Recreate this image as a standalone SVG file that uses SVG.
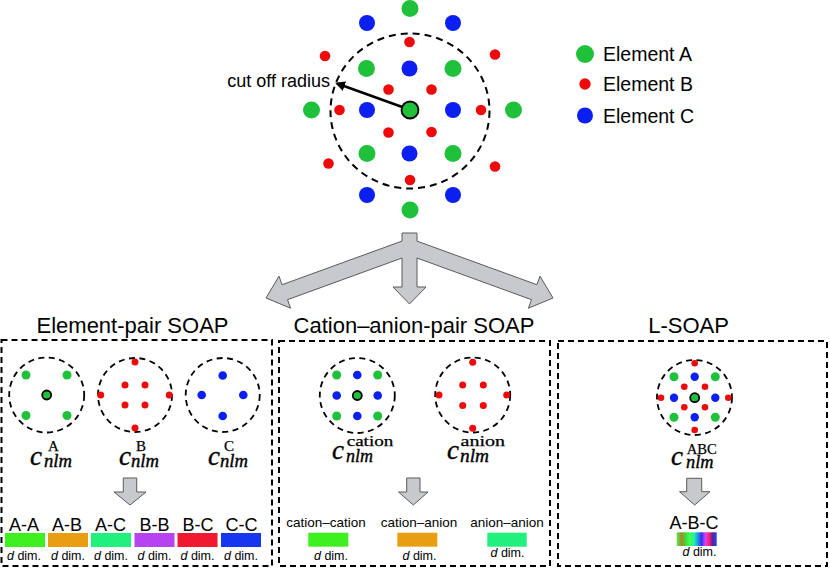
<svg xmlns="http://www.w3.org/2000/svg" width="830" height="568" viewBox="0 0 830 568">
<style>
.bg{fill:#fff}
.ga{fill:#1fc13b}
.rb{fill:#ee0a0a}
.bc{fill:#0a1ff0}
.ctr{fill:#1fc13b;stroke:#000;stroke-width:1.8}
.cut{fill:none;stroke:#000;stroke-width:2;stroke-dasharray:7 5}
.cut2{fill:none;stroke:#000;stroke-width:1.8;stroke-dasharray:6 4.5}
.box{fill:none;stroke:#000;stroke-width:2;stroke-dasharray:6 4}
.blk{fill:#c8c9cc;stroke:#5a5a5a;stroke-width:1}
.sans{font-family:"Liberation Sans",Arial,sans-serif;fill:#000}
.ttl{font-size:22px;text-anchor:middle}
.leg{font-size:19.5px}
.lbl{font-size:18px;text-anchor:middle}
.lbl2{font-size:13.5px;text-anchor:middle}
.dd{font-size:12.5px;text-anchor:middle}
.mi{font-family:"Liberation Serif","DejaVu Serif",serif;font-style:italic;font-size:27px;stroke:#000;stroke-width:0.35}
.sub{font-family:"Liberation Serif","DejaVu Serif",serif;font-style:italic;font-size:18px;stroke:#000;stroke-width:0.35}
.sup{font-family:"Liberation Serif","DejaVu Serif",serif;font-size:15px;stroke:#000;stroke-width:0.25}
</style>
<defs>
<marker id="ah" viewBox="0 0 10 10" refX="8" refY="5" markerWidth="4" markerHeight="4" orient="auto" markerUnits="strokeWidth">
<path d="M0,0 L10,5 L0,10 Z" fill="#000"/>
</marker>
<linearGradient id="rainbow" x1="0" y1="0" x2="1" y2="0">
<stop offset="0" stop-color="#4cf04c"/>
<stop offset="0.12" stop-color="#a8862a"/>
<stop offset="0.22" stop-color="#3cd83c"/>
<stop offset="0.32" stop-color="#44ff44"/>
<stop offset="0.44" stop-color="#22eeaa"/>
<stop offset="0.54" stop-color="#2288ee"/>
<stop offset="0.62" stop-color="#3333ee"/>
<stop offset="0.72" stop-color="#e040f0"/>
<stop offset="0.82" stop-color="#f02070"/>
<stop offset="0.9" stop-color="#5522a0"/>
<stop offset="1" stop-color="#2244f0"/>
</linearGradient>
</defs>
<rect class="bg" x="0" y="0" width="830" height="568"/>

<g id="lattice">
<ellipse class="cut" cx="410" cy="111" rx="79.5" ry="77.5"/>
<circle class="ga" cx="410" cy="8.5" r="8.5"/>
<circle class="bc" cx="367" cy="23" r="8"/>
<circle class="bc" cx="453" cy="23" r="8"/>
<circle class="rb" cx="409.5" cy="42" r="5.3"/>
<circle class="rb" cx="325" cy="56" r="5.3"/>
<circle class="rb" cx="495" cy="54.5" r="5.3"/>
<circle class="ga" cx="366.5" cy="68.5" r="8.5"/>
<circle class="bc" cx="409.5" cy="68.5" r="8"/>
<circle class="ga" cx="453" cy="68.5" r="8.5"/>
<circle class="rb" cx="388.5" cy="89.5" r="5.3"/>
<circle class="rb" cx="431.5" cy="89.5" r="5.3"/>
<circle class="ga" cx="311.5" cy="110" r="8.5"/>
<circle class="rb" cx="339.5" cy="110" r="5.3"/>
<circle class="bc" cx="367" cy="110" r="8"/>
<circle class="bc" cx="453" cy="110" r="8"/>
<circle class="rb" cx="481" cy="110" r="5.3"/>
<circle class="ga" cx="513.5" cy="110" r="8.5"/>
<circle class="rb" cx="388.5" cy="132.5" r="5.3"/>
<circle class="rb" cx="431.5" cy="132" r="5.3"/>
<circle class="ga" cx="367" cy="153.5" r="8.5"/>
<circle class="bc" cx="409.5" cy="153.5" r="8"/>
<circle class="ga" cx="453" cy="153.5" r="8.5"/>
<circle class="rb" cx="328.5" cy="163.5" r="5.3"/>
<circle class="rb" cx="495" cy="166.5" r="5.3"/>
<circle class="rb" cx="410" cy="180" r="5.3"/>
<circle class="bc" cx="367" cy="195" r="8"/>
<circle class="bc" cx="453" cy="195" r="8"/>
<circle class="ga" cx="410" cy="210" r="8.5"/>
<line x1="405" y1="108" x2="337" y2="83.5" stroke="#000" stroke-width="2.5" marker-end="url(#ah)"/>
<circle class="ctr" cx="410" cy="110" r="8.5"/>
<text class="sans" x="330" y="87" font-size="18" text-anchor="end">cut off radius</text>
</g>

<g id="legend">
<circle class="ga" cx="585" cy="54" r="9"/>
<text class="sans leg" x="603" y="60.5">Element A</text>
<circle class="rb" cx="585" cy="84" r="5.7"/>
<text class="sans leg" x="603" y="91">Element B</text>
<circle class="bc" cx="585" cy="115.5" r="8"/>
<text class="sans leg" x="603" y="122.5">Element C</text>
</g>

<g id="connectors">
<path class="blk" d="M402,233 L417,233 L417,241.1 L536.9,284.7 L540,276.2 L553,298 L528.4,308.2 L531.5,299.7 L417,258 L417,287 L426,287 L409.5,304 L393,287 L402,287 L402,258 L287.5,299.7 L290.6,308.2 L266,298 L279,276.2 L282.1,284.7 L402,241.1 Z"/>
</g>

<g id="panel-element-pair">
<text class="sans ttl" x="132.5" y="333">Element-pair SOAP</text>
<rect class="box" x="1.5" y="340" width="270.5" height="226"/>
<circle class="cut2" cx="46.7" cy="395" r="37.5"/>
<circle class="ga" cx="26" cy="375" r="4.5"/>
<circle class="ga" cx="67" cy="375" r="4.5"/>
<circle class="ga" cx="26" cy="415.5" r="4.5"/>
<circle class="ga" cx="67" cy="415.5" r="4.5"/>
<circle class="ctr" cx="46.7" cy="395" r="4.5" stroke-width="1.3"/>
<circle class="cut2" cx="135" cy="395" r="37"/>
<circle class="rb" cx="135" cy="362" r="3.5"/>
<circle class="rb" cx="125" cy="385" r="3.5"/>
<circle class="rb" cx="145" cy="385" r="3.5"/>
<circle class="rb" cx="125" cy="405" r="3.5"/>
<circle class="rb" cx="145" cy="405" r="3.5"/>
<circle class="rb" cx="135" cy="428" r="3.5"/>
<circle class="rb" cx="100.7" cy="395" r="3.5"/>
<circle class="rb" cx="169.3" cy="395" r="3.5"/>
<circle class="cut2" cx="222.7" cy="395" r="37"/>
<circle class="bc" cx="222.7" cy="375.5" r="4.3"/>
<circle class="bc" cx="201.7" cy="395" r="4.3"/>
<circle class="bc" cx="243.3" cy="395" r="4.3"/>
<circle class="bc" cx="222.7" cy="416" r="4.3"/>
<text class="mi" x="30" y="465">c</text>
<text class="sup" x="48" y="451">A</text>
<text class="sub" x="44" y="467" textLength="28" lengthAdjust="spacingAndGlyphs">nlm</text>
<text class="mi" x="119" y="465">c</text>
<text class="sup" x="136" y="451">B</text>
<text class="sub" x="131" y="467" textLength="28" lengthAdjust="spacingAndGlyphs">nlm</text>
<text class="mi" x="208" y="465">c</text>
<text class="sup" x="224" y="451">C</text>
<text class="sub" x="220" y="467" textLength="28" lengthAdjust="spacingAndGlyphs">nlm</text>
<path class="blk" d="M123.3,478 L136.7,478 L136.7,492 L146,492 L130,505 L114,492 L123.3,492 Z"/>
<text class="sans lbl" x="24" y="531">A-A</text>
<text class="sans lbl" x="67" y="531">A-B</text>
<text class="sans lbl" x="110.5" y="531">A-C</text>
<text class="sans lbl" x="154.5" y="531">B-B</text>
<text class="sans lbl" x="198" y="531">B-C</text>
<text class="sans lbl" x="241.5" y="531">C-C</text>
<rect x="5" y="533" width="40" height="14" fill="#3ff020"/>
<rect x="48" y="533" width="40" height="14" fill="#e89e10"/>
<rect x="91" y="533" width="40" height="14" fill="#22f07c"/>
<rect x="134.5" y="533" width="40" height="14" fill="#b742f0"/>
<rect x="177.5" y="533" width="40" height="14" fill="#ef1a30"/>
<rect x="221" y="533" width="40" height="14" fill="#1636f0"/>
<text class="sans dd" x="24" y="560"><tspan font-style="italic">d</tspan> dim.</text>
<text class="sans dd" x="68" y="560"><tspan font-style="italic">d</tspan> dim.</text>
<text class="sans dd" x="111" y="560"><tspan font-style="italic">d</tspan> dim.</text>
<text class="sans dd" x="154.5" y="560"><tspan font-style="italic">d</tspan> dim.</text>
<text class="sans dd" x="197.5" y="560"><tspan font-style="italic">d</tspan> dim.</text>
<text class="sans dd" x="241" y="560"><tspan font-style="italic">d</tspan> dim.</text>
</g>

<g id="panel-cation-anion">
<text class="sans ttl" x="414" y="333">Cation–anion-pair SOAP</text>
<rect class="box" x="279" y="341" width="271" height="225"/>
<circle class="cut2" cx="357.3" cy="395.5" r="37.5"/>
<circle class="ga" cx="336.7" cy="375" r="4.5"/>
<circle class="bc" cx="357.3" cy="375" r="4.3"/>
<circle class="ga" cx="377.7" cy="375" r="4.5"/>
<circle class="bc" cx="336.7" cy="395.5" r="4.3"/>
<circle class="ctr" cx="357.3" cy="395.5" r="4.5" stroke-width="1.3"/>
<circle class="bc" cx="377.7" cy="395.5" r="4.3"/>
<circle class="ga" cx="336.7" cy="416" r="4.5"/>
<circle class="bc" cx="357.3" cy="416" r="4.3"/>
<circle class="ga" cx="377.7" cy="416" r="4.5"/>
<circle class="cut2" cx="472.7" cy="395" r="37.5"/>
<circle class="rb" cx="472.7" cy="362.3" r="3.5"/>
<circle class="rb" cx="462.7" cy="385" r="3.5"/>
<circle class="rb" cx="483.3" cy="385" r="3.5"/>
<circle class="rb" cx="462.7" cy="405.5" r="3.5"/>
<circle class="rb" cx="483.3" cy="405.5" r="3.5"/>
<circle class="rb" cx="472.7" cy="428.3" r="3.5"/>
<circle class="rb" cx="439" cy="395" r="3.5"/>
<circle class="rb" cx="506.7" cy="395" r="3.5"/>
<text class="mi" x="332" y="459">c</text>
<text class="sup" x="346.7" y="445.5" textLength="46.6" lengthAdjust="spacingAndGlyphs">cation</text>
<text class="sub" x="346" y="462" textLength="27" lengthAdjust="spacingAndGlyphs">nlm</text>
<text class="mi" x="447" y="459">c</text>
<text class="sup" x="460.5" y="445.5" textLength="44.5" lengthAdjust="spacingAndGlyphs">anion</text>
<text class="sub" x="460" y="462" textLength="29" lengthAdjust="spacingAndGlyphs">nlm</text>
<path class="blk" d="M406.7,478 L420,478 L420,492 L428,492 L413.3,505 L398.5,492 L406.7,492 Z"/>
<text class="sans lbl2" x="326" y="527">cation–cation</text>
<text class="sans lbl2" x="419" y="527">cation–anion</text>
<text class="sans lbl2" x="507" y="527">anion–anion</text>
<rect x="308.3" y="532.7" width="40" height="14" fill="#3ff020"/>
<rect x="397.3" y="532.7" width="40" height="14" fill="#e89e10"/>
<rect x="487.3" y="532.7" width="39.4" height="14" fill="#22f07c"/>
<text class="sans dd" x="331" y="560" font-size="14"><tspan font-style="italic">d</tspan> dim.</text>
<text class="sans dd" x="419.5" y="560" font-size="14"><tspan font-style="italic">d</tspan> dim.</text>
<text class="sans dd" x="507.5" y="557" font-size="14"><tspan font-style="italic">d</tspan> dim.</text>
</g>

<g id="panel-lsoap">
<text class="sans ttl" x="688.5" y="333">L-SOAP</text>
<rect class="box" x="558" y="341" width="269" height="225"/>
<circle class="cut2" cx="694.5" cy="397.5" r="37.5"/>
<circle class="rb" cx="694.7" cy="363.3" r="3.3"/>
<circle class="ga" cx="674" cy="376.7" r="4.5"/>
<circle class="bc" cx="694.7" cy="376.7" r="4.2"/>
<circle class="ga" cx="715.3" cy="376.7" r="4.5"/>
<circle class="rb" cx="684.3" cy="386.7" r="3.3"/>
<circle class="rb" cx="705" cy="386.7" r="3.3"/>
<circle class="rb" cx="661" cy="397.7" r="3.3"/>
<circle class="bc" cx="674" cy="397.7" r="4.2"/>
<circle class="ctr" cx="694.7" cy="397.7" r="4.5" stroke-width="1.3"/>
<circle class="bc" cx="715.3" cy="397.7" r="4.2"/>
<circle class="rb" cx="728.3" cy="397.7" r="3.3"/>
<circle class="rb" cx="684.3" cy="407.3" r="3.3"/>
<circle class="rb" cx="705" cy="407.3" r="3.3"/>
<circle class="ga" cx="674" cy="417.3" r="4.5"/>
<circle class="bc" cx="694.7" cy="417.3" r="4.2"/>
<circle class="ga" cx="715.3" cy="417.3" r="4.5"/>
<circle class="rb" cx="694.7" cy="430" r="3.3"/>
<text class="mi" x="671" y="465">c</text>
<text class="sup" x="686.7" y="454" textLength="30" lengthAdjust="spacingAndGlyphs">ABC</text>
<text class="sub" x="686" y="468.3" textLength="27.5" lengthAdjust="spacingAndGlyphs">nlm</text>
<path class="blk" d="M686.7,478.3 L701.7,478.3 L701.7,491.7 L710,491.7 L694.7,505 L679.5,491.7 L686.7,491.7 Z"/>
<text class="sans lbl" x="694" y="529.3">A-B-C</text>
<rect x="676.7" y="532.3" width="40" height="13.7" fill="url(#rainbow)"/>
<text class="sans dd" x="699.5" y="556" font-size="12.5"><tspan font-style="italic">d</tspan> dim.</text>
</g>
</svg>
